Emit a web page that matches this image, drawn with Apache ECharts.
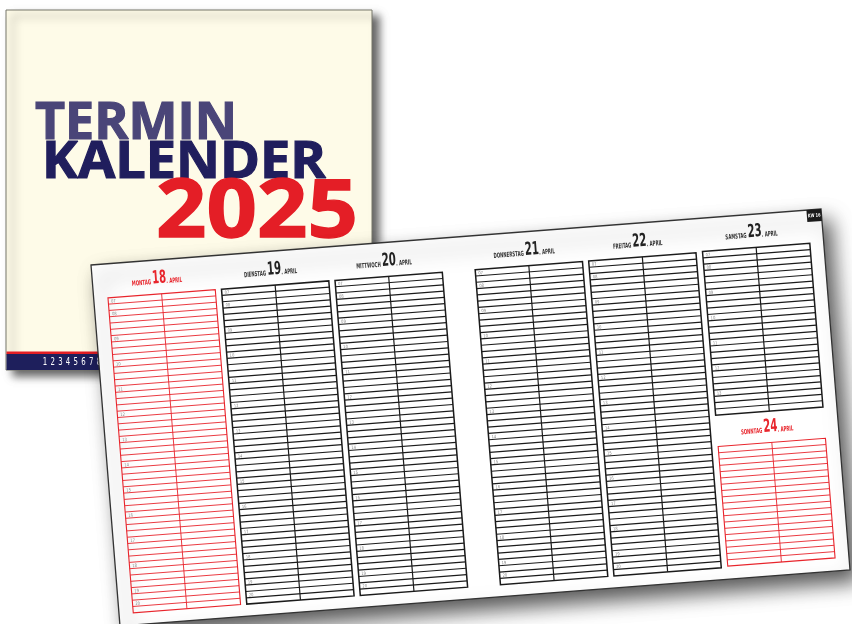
<!DOCTYPE html>
<html>
<head>
<meta charset="utf-8">
<title>Terminkalender 2025</title>
<script src="https://cdn.jsdelivr.net/npm/echarts@6/dist/echarts.min.js"></script>
<style>
html, body { margin: 0; padding: 0; background: #fff; }
#main { width: 852px; height: 624px; }
</style>
</head>
<body>
<div id="main"></div>
<script>
// Kalenderdaten
const dayNames = ['MONTAG', 'DIENSTAG', 'MITTWOCH', 'DONNERSTAG', 'FREITAG', 'SAMSTAG', 'SONNTAG'];
const dayDates = [18, 19, 20, 21, 22, 23, 24];
const monthName = 'APRIL';
const rowCounts = [50, 50, 50, 50, 50, 26, 19];
const showHours = [1, 1, 1, 1, 1, 1, 0];
const hourLabels = ['07', '08', '09', '10', '11', '12', '13', '14', '15', '16', '17', '18', '19', '20'];
const hourRows = [0, 2, 6, 10, 14, 18, 22, 26, 30, 34, 38, 42, 46, 48];
const coverDigits = ['1', '2', '3', '4', '5', '6', '7', '8'];
const weekTab = 'KW 16';

// Blatt: schräg liegendes Rechteck (Ursprung + zwei Kantenvektoren)
const ORIGIN = [91, 265];
const EDGE_U = [730, -56];
const EDGE_V = [29, 361];
const ROT = -Math.atan2(EDGE_U[1], EDGE_U[0]);

// Spalten im Blatt (Anteile der Kanten)
const colU = [0.0195, 0.175, 0.3305, 0.5225, 0.678, 0.834, 0.834];
const colV = [0.094, 0.094, 0.094, 0.094, 0.094, 0.092, 0.632];
const COL_W = 0.147;
const ROW_H = 0.01745;

function sheet (u, v) {
  return [
    ORIGIN[0] + u * EDGE_U[0] + v * EDGE_V[0],
    ORIGIN[1] + u * EDGE_U[1] + v * EDGE_V[1]
  ];
}

const RED = '#E8252C';
const INK = '#1B1B1B';
const cond = '"DejaVu Sans", sans-serif';

function renderPaper (params, api) {
  const P = (u, v) => api.coord(sheet(u, v));
  const tab = P(0.99, 0.017);
  return {
    type: 'group',
    children: [{
      type: 'polygon',
      shape: { points: [P(0, 0), P(1, 0), P(1, 1), P(0, 1)] },
      style: {
        fill: '#fff',
        stroke: '#333',
        lineWidth: 1.3,
        shadowBlur: 20,
        shadowOffsetX: 9,
        shadowOffsetY: 11,
        shadowColor: 'rgba(0,0,0,0.65)'
      }
    }, {
      type: 'polygon',
      shape: { points: [P(0.98, 0), P(1, 0), P(1, 0.033), P(0.98, 0.033)] },
      style: { fill: '#1a1a1a' }
    }, {
      type: 'text',
      x: tab[0],
      y: tab[1],
      rotation: ROT,
      scaleX: 0.7,
      style: {
        text: weekTab,
        fill: '#fff',
        font: 'bold 5px ' + cond,
        align: 'center',
        verticalAlign: 'middle'
      }
    }]
  };
}

function renderDay (params, api) {
  const i = api.value(0);
  const u0 = colU[i];
  const u1 = u0 + COL_W;
  const um = (u0 + u1) / 2;
  const v0 = colV[i];
  const rows = rowCounts[i];
  const v1 = v0 + rows * ROW_H;
  const red = (i === 0 || i === 6);
  const color = red ? RED : INK;
  const P = (u, v) => api.coord(sheet(u, v));
  const children = [];

  children.push({
    type: 'polygon',
    shape: { points: [P(u0, v0), P(u1, v0), P(u1, v1), P(u0, v1)] },
    style: { fill: 'none', stroke: color, lineWidth: red ? 1.1 : 1.5 }
  });
  for (let k = 1; k < rows; k++) {
    const a = P(u0, v0 + k * ROW_H);
    const b = P(u1, v0 + k * ROW_H);
    children.push({
      type: 'line',
      shape: { x1: a[0], y1: a[1], x2: b[0], y2: b[1] },
      style: { stroke: color, lineWidth: red ? 0.9 : 1.2 }
    });
  }
  const m0 = P(um, v0);
  const m1 = P(um, v1);
  children.push({
    type: 'line',
    shape: { x1: m0[0], y1: m0[1], x2: m1[0], y2: m1[1] },
    style: { stroke: color, lineWidth: red ? 0.9 : 1.2 }
  });

  if (showHours[i]) {
    hourLabels.forEach(function (h, j) {
      if (hourRows[j] >= rows) return;
      const p = P(u0 + 0.004, v0 + hourRows[j] * ROW_H + 0.004);
      children.push({
        type: 'text',
        x: p[0],
        y: p[1],
        rotation: ROT,
        scaleX: 0.8,
        style: {
          text: h,
          fill: '#888',
          font: '4.5px ' + cond,
          align: 'left',
          verticalAlign: 'top'
        }
      });
    });
  }

  const t = P(um - 0.005, v0 - 0.018);
  children.push({
    type: 'text',
    x: t[0],
    y: t[1],
    rotation: ROT,
    scaleX: 0.56,
    style: {
      text: '{s|' + dayNames[i] + ' }{b|' + dayDates[i] + '}{s|. ' + monthName + '}',
      align: 'center',
      verticalAlign: 'bottom',
      rich: {
        s: { fill: red ? RED : '#333', font: 'bold 7px ' + cond, verticalAlign: 'bottom', padding: [0, 0, 2, 0] },
        b: { fill: red ? RED : '#222', font: 'bold 18px ' + cond, verticalAlign: 'bottom' }
      }
    }
  });

  return { type: 'group', children: children };
}

const chart = echarts.init(document.getElementById('main'));

const coverGraphics = [{
  type: 'rect',
  z: 1,
  shape: { x: 6, y: 10, width: 366, height: 360 },
  style: {
    fill: '#FEFBE8',
    stroke: '#77776a',
    lineWidth: 1,
    shadowBlur: 8,
    shadowOffsetX: 7,
    shadowOffsetY: 6,
    shadowColor: 'rgba(0,0,0,0.6)'
  }
}, {
  type: 'rect',
  z: 1,
  shape: { x: 6.5, y: 351.5, width: 365, height: 3 },
  style: { fill: '#E31E24' }
}, {
  type: 'rect',
  z: 1,
  shape: { x: 6.5, y: 354, width: 365, height: 16 },
  style: { fill: '#1E1F5C' }
}, {
  type: 'text',
  z: 1,
  x: 35,
  y: 124,
  style: { text: 'TERMIN', fill: '#4A4578', stroke: '#4A4578', lineWidth: 1.2, font: 'bold 52px "Open Sans"', verticalAlign: 'middle' }
}, {
  type: 'text',
  z: 1,
  x: 42,
  y: 163,
  scaleX: 1.04,
  style: { text: 'KALENDER', fill: '#201E5D', stroke: '#201E5D', lineWidth: 1.2, font: 'bold 52px "Open Sans"', verticalAlign: 'middle' }
}, {
  type: 'text',
  z: 1,
  x: 156,
  y: 214,
  scaleX: 1.09,
  style: { text: '2025', fill: '#E41E26', stroke: '#E41E26', lineWidth: 1.4, font: 'bold 81px "Open Sans"', verticalAlign: 'middle' }
}];

coverDigits.forEach(function (d, i) {
  coverGraphics.push({
    type: 'text',
    z: 1,
    x: 45 + i * 7.7,
    y: 362,
    scaleX: 0.7,
    style: { text: d, fill: '#fff', font: '10px ' + cond, align: 'center', verticalAlign: 'middle' }
  });
});

const option = {
  animation: false,
  backgroundColor: '#fff',
  graphic: coverGraphics,
  grid: { left: 0, right: 0, top: 0, bottom: 0 },
  xAxis: { type: 'value', min: 0, max: 852, show: false },
  yAxis: { type: 'value', min: 0, max: 624, inverse: true, show: false },
  series: [{
    type: 'custom',
    name: 'Blatt',
    z: 3,
    silent: true,
    renderItem: renderPaper,
    data: [[0]]
  }, {
    type: 'custom',
    name: 'Tage',
    z: 4,
    silent: true,
    renderItem: renderDay,
    data: dayNames.map(function (d, i) { return [i]; })
  }]
};

chart.setOption(option);
window.addEventListener('resize', function () {
  chart.resize();
});
</script>
</body>
</html>
